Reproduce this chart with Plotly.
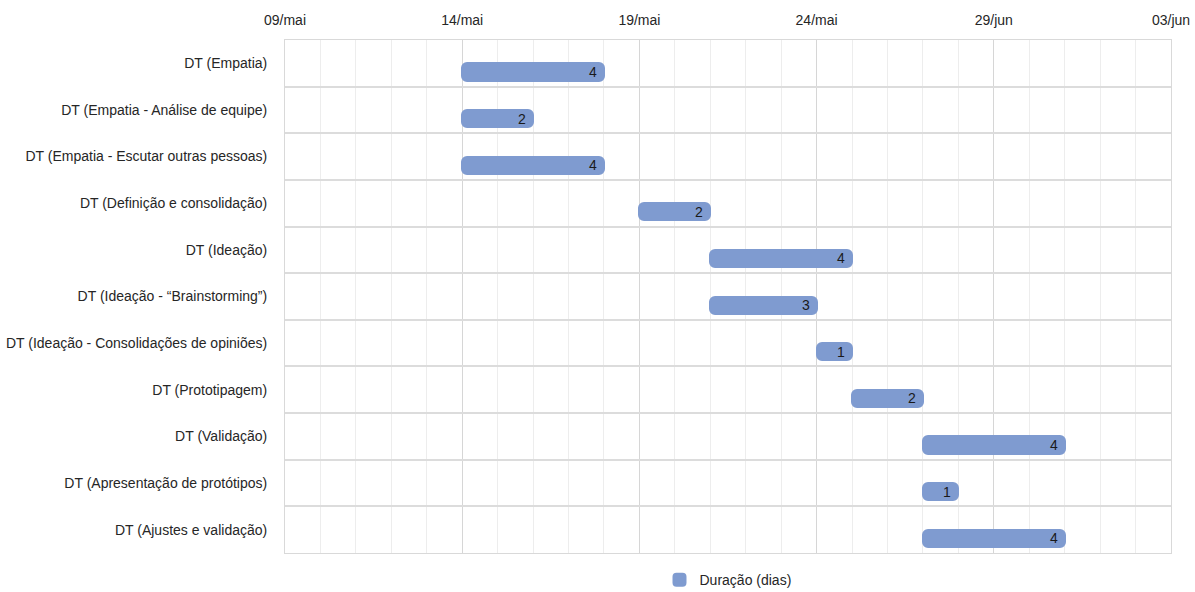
import plotly.graph_objects as go
import pandas as pd

tasks = [
    "DT (Empatia)",
    "DT (Empatia - Análise de equipe)",
    "DT (Empatia - Escutar outras pessoas)",
    "DT (Definição e consolidação)",
    "DT (Ideação)",
    "DT (Ideação - “Brainstorming”)",
    "DT (Ideação - Consolidações de opiniões)",
    "DT (Prototipagem)",
    "DT (Validação)",
    "DT (Apresentação de protótipos)",
    "DT (Ajustes e validação)",
]
starts = [
    "2023-05-14", "2023-05-14", "2023-05-14", "2023-05-19", "2023-05-21",
    "2023-05-21", "2023-05-24", "2023-05-25", "2023-05-27", "2023-05-27",
    "2023-05-27",
]
durations = [4, 2, 4, 2, 4, 3, 1, 2, 4, 1, 4]

tick_dates = ["2023-05-09", "2023-05-14", "2023-05-19", "2023-05-24", "2023-05-29", "2023-06-03"]
tick_labels = ["09/mai", "14/mai", "19/mai", "24/mai", "29/jun", "03/jun"]

DAY_MS = 86400000
FONT = "Liberation Sans, Arial, sans-serif"
BAR = "#7f9bd0"
BAR_W = 0.37

fig = go.Figure()
fig.add_trace(go.Bar(
    y=tasks,
    x=[d * DAY_MS for d in durations],
    base=starts,
    orientation="h",
    name="Duração (dias)",
    marker=dict(color=BAR, cornerradius=5, line=dict(width=2, color=BAR)),
    width=BAR_W,
    offset=0.0,
    showlegend=True,
    hoverinfo="skip",
))

# duration labels at the end of each bar
ends = [(pd.Timestamp(s) + pd.Timedelta(days=d)).strftime("%Y-%m-%d") for s, d in zip(starts, durations)]
band_px = (592 - 40 - 39) / len(tasks)
for t, e, d in zip(tasks, ends, durations):
    fig.add_annotation(
        x=e, y=t, xref="x", yref="y",
        text=str(d), showarrow=False,
        xanchor="right", yanchor="middle",
        xshift=-5, yshift=-band_px * BAR_W / 2,
        font=dict(family=FONT, size=14, color="#1a1a1a"),
    )

fig.update_layout(
    width=1195, height=592,
    margin=dict(l=285, r=24, t=40, b=39, autoexpand=False),
    paper_bgcolor="white", plot_bgcolor="white",
    font=dict(family=FONT, size=14, color="#262626"),
    bargap=0.0,
    legend=dict(orientation="h", x=0.5, xanchor="center",
                yref="container", y=0.02, yanchor="middle",
                font=dict(family=FONT, size=14, color="#262626"),
                itemwidth=30),
    xaxis=dict(
        type="date", side="top",
        range=[tick_dates[0], tick_dates[-1]],
        tickvals=tick_dates, ticktext=tick_labels,
        showgrid=True, gridcolor="#d6d6d6", gridwidth=1,
        minor=dict(dtick=DAY_MS, tick0=tick_dates[0], showgrid=True, gridcolor="#ededed", gridwidth=1),
        showline=True, mirror=True, linecolor="#d9d9d9", linewidth=1,
        zeroline=False, ticks="", ticklabelstandoff=8,
        tickfont=dict(family=FONT, size=14, color="#262626"),
    ),
    yaxis=dict(
        type="category",
        categoryorder="array", categoryarray=tasks,
        autorange="reversed",
        tickson="boundaries",
        showgrid=True, gridcolor="#dcdcdc", gridwidth=2,
        showline=True, mirror=True, linecolor="#d9d9d9", linewidth=1,
        ticks="", ticklabelstandoff=14,
        tickfont=dict(family=FONT, size=14, color="#262626"),
    ),
)

fig.write_html("out.html")
